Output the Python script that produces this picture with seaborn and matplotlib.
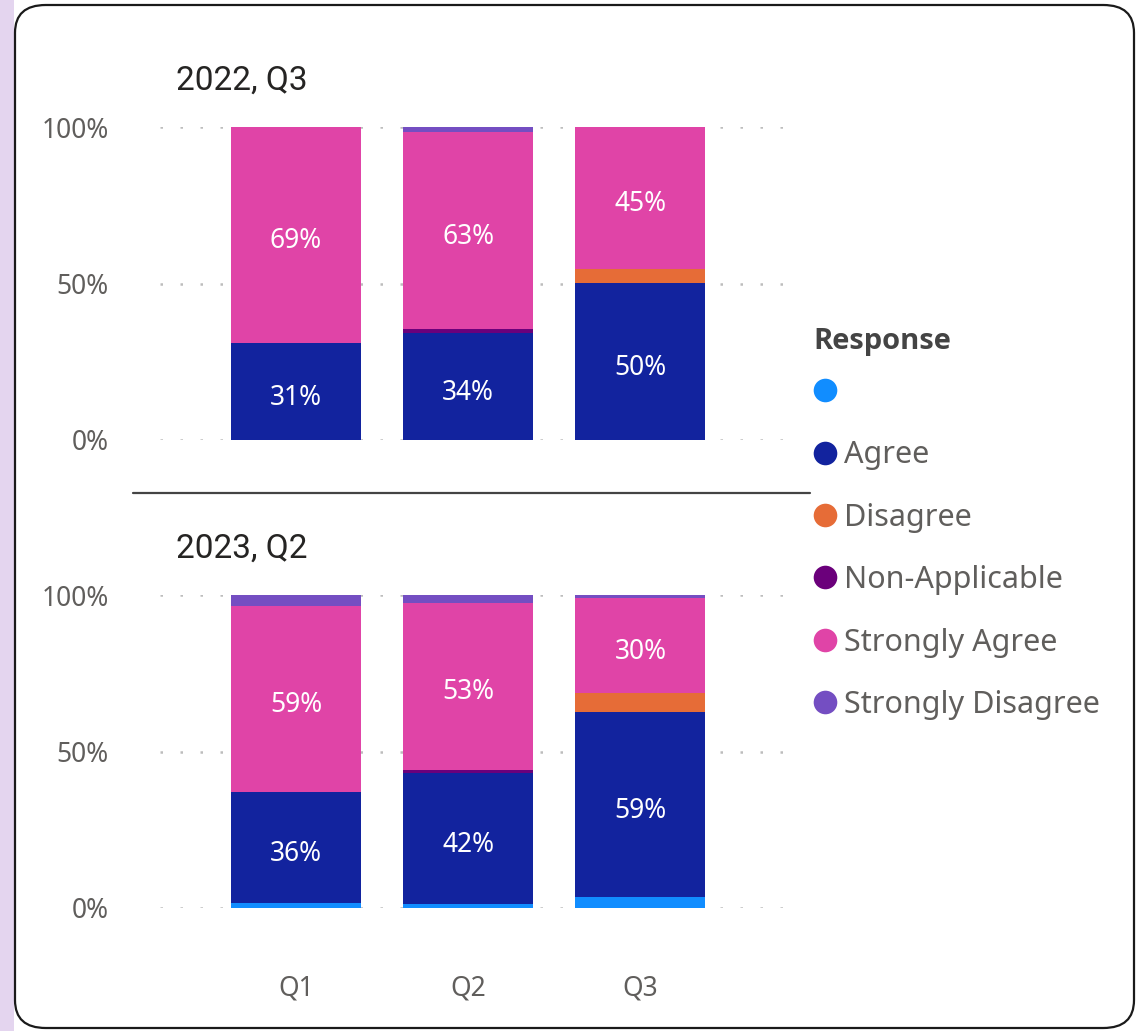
import numpy as np
import pandas as pd
import matplotlib
matplotlib.use("Agg")
import matplotlib.pyplot as plt
import seaborn as sns
from matplotlib.patches import FancyBboxPatch, Rectangle
from matplotlib.lines import Line2D
from matplotlib.ticker import FuncFormatter

# ---------------- data ----------------
quarters = ["Q1", "Q2", "Q3"]
responses = ["", "Agree", "Disagree", "Non-Applicable", "Strongly Agree", "Strongly Disagree"]
colors = ["#118DFF", "#12239E", "#E66C37", "#6B007B", "#E044A7", "#744EC2"]
panels = ["2022, Q3", "2023, Q2"]
legend_title = "Response"

# 2022, Q3 (percent of responses)
p2022_blank = [0.0, 0.0, 0.0]
p2022_agree = [31.0, 34.3, 50.1]
p2022_disagree = [0.0, 0.0, 4.5]
p2022_na = [0.0, 1.2, 0.0]
p2022_sagree = [69.0, 63.0, 45.4]
p2022_sdisagree = [0.0, 1.5, 0.0]

# 2023, Q2
p2023_blank = [1.5, 1.3, 3.6]
p2023_agree = [35.7, 41.9, 59.0]
p2023_disagree = [0.0, 0.0, 6.0]
p2023_na = [0.0, 1.0, 0.0]
p2023_sagree = [59.3, 53.4, 30.4]
p2023_sdisagree = [3.5, 2.4, 1.0]

series = {
    "2022, Q3": [p2022_blank, p2022_agree, p2022_disagree, p2022_na, p2022_sagree, p2022_sdisagree],
    "2023, Q2": [p2023_blank, p2023_agree, p2023_disagree, p2023_na, p2023_sagree, p2023_sdisagree],
}

rows = []
for panel, layers in series.items():
    for resp, vals in zip(responses, layers):
        for q, v in zip(quarters, vals):
            rows.append({"Panel": panel, "Response": resp, "Quarter": q, "Value": v})
df = pd.DataFrame(rows)

# ---------------- style ----------------
sns.set_theme(style="white")
plt.rcParams["font.family"] = ["Noto Sans", "DejaVu Sans"]

W, H = 1137, 1031
fig = plt.figure(figsize=(W / 100, H / 100), dpi=100, facecolor="#E4D5EF")

# card background
fig.add_artist(Rectangle((14 / W, 0), 1 - 14 / W, 1, transform=fig.transFigure,
                         facecolor="white", edgecolor="none", zorder=-3))
card = FancyBboxPatch((15 / W, 1 - 1028 / H), (1134 - 15) / W, (1028 - 5) / H,
                      boxstyle="round,pad=0,rounding_size=0.027",
                      transform=fig.transFigure, facecolor="white",
                      edgecolor="#1a1a1a", linewidth=1.6, zorder=-2)
fig.add_artist(card)
fig.add_artist(Rectangle((0, 0), 13 / W, 1, transform=fig.transFigure,
                         facecolor="#E4D5EF", edgecolor="none", zorder=-1))

tick_color = "#605E5C"
axes_tops = [127, 595]
axes_h = 313
for panel, top in zip(panels, axes_tops):
    ax = fig.add_axes([160 / W, 1 - (top + axes_h) / H, 625 / W, axes_h / H])
    sub = df[df["Panel"] == panel].copy()
    wide = sub.pivot(index="Quarter", columns="Response", values="Value").reindex(index=quarters, columns=responses)
    cum = wide.cumsum(axis=1)
    # draw stacked layers from top to bottom
    for i in range(len(responses) - 1, -1, -1):
        layer = pd.DataFrame({"Quarter": quarters, "Top": cum[responses[i]].values})
        sns.barplot(data=layer, x="Quarter", y="Top", order=quarters, color=colors[i],
                    saturation=1, width=0.756, linewidth=0, errorbar=None, ax=ax, zorder=2)
    # data labels
    for i, resp in enumerate(responses):
        vals = wide[resp].values
        bottoms = cum[resp].values - vals
        for j, v in enumerate(vals):
            if v >= 10:
                ax.annotate(f"{round(v)}%", (j, bottoms[j] + v / 2), xytext=(0, -2),
                            textcoords="offset points", ha="center", va="center_baseline",
                            color="white", fontsize=19, zorder=5)
    ax.set_xlim(-0.79, 2.84)
    ax.set_ylim(0, 100)
    ax.set_yticks([0, 50, 100])
    ax.yaxis.set_major_formatter(FuncFormatter(lambda x, p: f"{x:.0f}%"))
    ax.yaxis.grid(True, linestyle=(0, (1, 7)), color="#BDBDBD", linewidth=1.8)
    ax.set_axisbelow(True)
    for s in ax.spines.values():
        s.set_visible(False)
    ax.set_xlabel("")
    ax.set_ylabel("")
    ax.set_facecolor("none")
    ax.tick_params(axis="y", length=0, pad=37, labelsize=19, labelcolor=tick_color)
    ax.tick_params(axis="x", length=0, pad=48, labelsize=19, labelcolor=tick_color)
    if top == axes_tops[0]:
        ax.set_xticklabels([])
    fig.text(176 / W, 1 - (top - 37) / H, panel, family=["Roboto", "DejaVu Sans"],
             fontsize=24, color="#252423", ha="left", va="baseline")

# separator line between small multiples
fig.add_artist(Line2D([133 / W, 810 / W], [1 - 492.5 / H, 1 - 492.5 / H],
                      transform=fig.transFigure, color="#444444", linewidth=1.6))

# legend
fig.text(813 / W, 1 - 338 / H, legend_title, family=["Open Sans", "Lato", "DejaVu Sans"],
         fontweight="bold", fontsize=21, color="#444444", ha="left", va="center_baseline")
handles = [Line2D([], [], marker="o", linestyle="", markersize=17, color=c,
                  markeredgewidth=0) for c in colors]
leg = fig.legend(handles, responses, loc="upper left",
                 bbox_to_anchor=(813 / W, 1 - 378 / H), frameon=False,
                 fontsize=22, handlelength=0.8, handletextpad=0.2, labelspacing=1.06,
                 borderpad=0, borderaxespad=0, alignment="left")
for t in leg.get_texts():
    t.set_color(tick_color)

fig.savefig("out.png", dpi=100, facecolor=fig.get_facecolor())
